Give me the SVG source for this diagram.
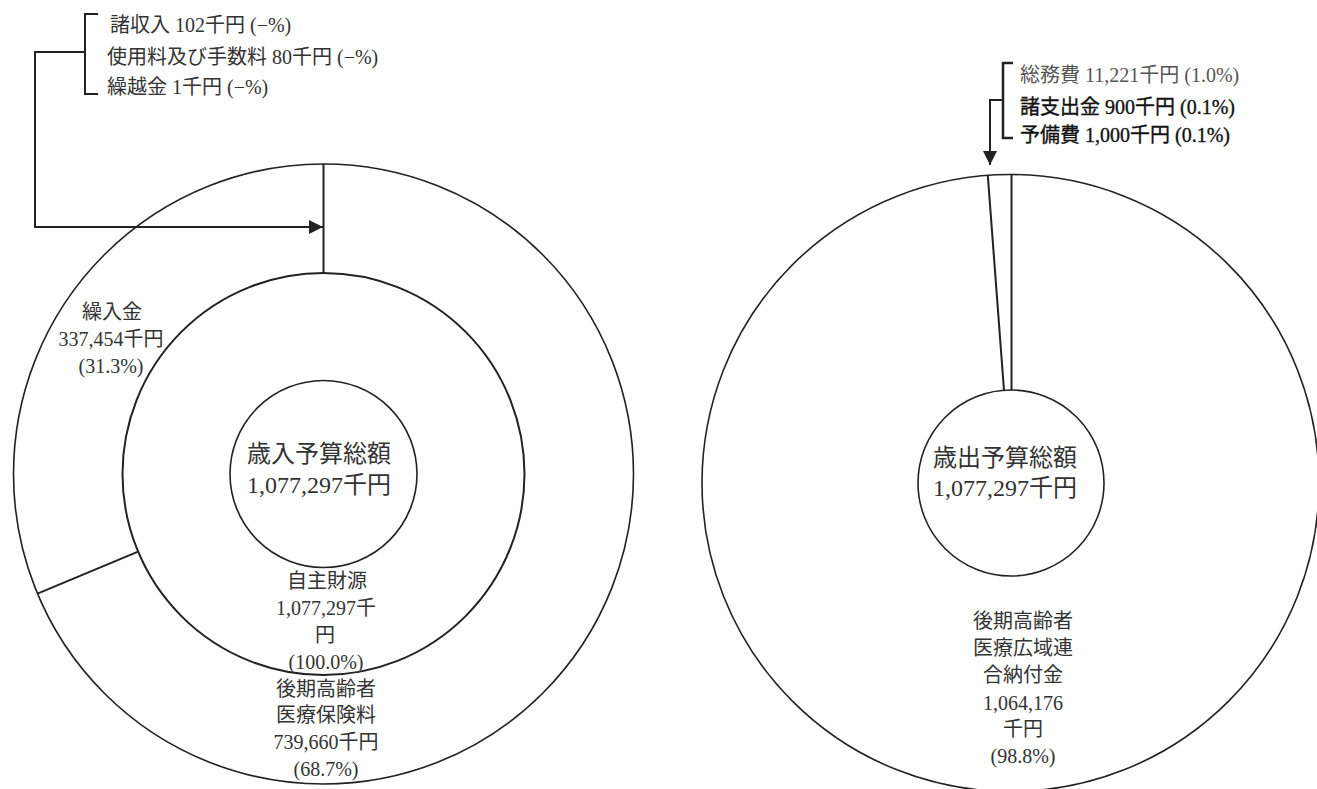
<svg xmlns="http://www.w3.org/2000/svg" width="1317" height="789" viewBox="0 0 1317 789">
<style>
  text { font-family: "Liberation Serif", "Noto Sans CJK JP", serif; fill: #333; font-size: 20px; }
  .big { font-size: 24px; }
  .mid { text-anchor: middle; }
  .dark { fill: #111; stroke: #111; stroke-width: 0.35; }
  .ring { fill: none; stroke: #222; stroke-width: 1.6; }
  .ring2 { fill: none; stroke: #222; stroke-width: 2; }
  .div { stroke: #222; stroke-width: 2; fill: none; }
  .conn { stroke: #222; stroke-width: 2; fill: none; }
</style>
<defs>
  <marker id="ah" viewBox="0 0 14 14" refX="14" refY="7" markerWidth="14" markerHeight="14" markerUnits="userSpaceOnUse" orient="auto">
    <path d="M0,0 L14,7 L0,14 Z" fill="#222"/>
  </marker>
</defs>
<rect width="1317" height="789" fill="#fff"/>

<g id="revenue-pie">
  <circle class="ring" cx="323.5" cy="474" r="310"/>
  <circle class="ring2" cx="323.5" cy="474" r="201"/>
  <circle class="ring" cx="323.5" cy="474" r="93.5"/>
  <line class="div" x1="323.5" y1="164" x2="323.5" y2="273"/>
  <line class="div" x1="138.1" y1="551.6" x2="37.5" y2="593.6"/>
</g>

<g id="revenue-total">
  <text class="big mid" x="319" y="462">歳入予算総額</text>
  <text class="big mid" x="319" y="493">1,077,297千円</text>
</g>

<g id="revenue-own">
  <text class="mid" x="327" y="588">自主財源</text>
  <text class="mid" x="326" y="615">1,077,297千</text>
  <text class="mid" x="325" y="642">円</text>
  <text class="mid" x="326" y="669">(100.0%)</text>
</g>

<g id="revenue-kurikomi">
  <text class="mid" x="112" y="319">繰入金</text>
  <text class="mid" x="111" y="346">337,454千円</text>
  <text class="mid" x="111" y="373">(31.3%)</text>
</g>

<g id="revenue-hokenryo">
  <text class="mid" x="326" y="696">後期高齢者</text>
  <text class="mid" x="326" y="722">医療保険料</text>
  <text class="mid" x="326" y="749">739,660千円</text>
  <text class="mid" x="326" y="776">(68.7%)</text>
</g>

<g id="revenue-minor">
  <text x="110" y="32">諸収入 102千円 (−%)</text>
  <text x="107" y="64">使用料及び手数料 80千円 (−%)</text>
  <text x="107" y="94">繰越金 1千円 (−%)</text>
</g>

<g id="expense-pie">
  <circle class="ring" cx="1010.5" cy="483" r="308.5"/>
  <circle class="ring" cx="1011" cy="483" r="93"/>
  <line class="div" x1="1011.5" y1="174.5" x2="1011.5" y2="390"/>
  <line class="div" x1="987.8" y1="175.4" x2="1004" y2="390.3"/>
</g>

<g id="expense-total">
  <text class="big mid" x="1005" y="466">歳出予算総額</text>
  <text class="big mid" x="1005" y="496">1,077,297千円</text>
</g>

<g id="expense-kouiki">
  <text class="mid" x="1023" y="628">後期高齢者</text>
  <text class="mid" x="1023" y="655">医療広域連</text>
  <text class="mid" x="1023" y="682">合納付金</text>
  <text class="mid" x="1023" y="710">1,064,176</text>
  <text class="mid" x="1023" y="736">千円</text>
  <text class="mid" x="1023" y="763">(98.8%)</text>
</g>

<g id="expense-minor">
  <text x="1020" y="82" style="fill:#555">総務費 11,221千円 (1.0%)</text>
  <text class="dark" x="1020" y="114">諸支出金 900千円 (0.1%)</text>
  <text class="dark" x="1020" y="142">予備費 1,000千円 (0.1%)</text>
</g>

<g id="connectors">
  <path class="conn" d="M98,14 H85 V94 H98"/>
  <path class="conn" d="M85,52 H35 V227 H323" marker-end="url(#ah)"/>
  <path class="conn" d="M1013,63 H1003 V138 H1013" style="stroke-width:2.5"/>
  <path class="conn" d="M1003,100 H990 V165" marker-end="url(#ah)"/>
</g>
</svg>
